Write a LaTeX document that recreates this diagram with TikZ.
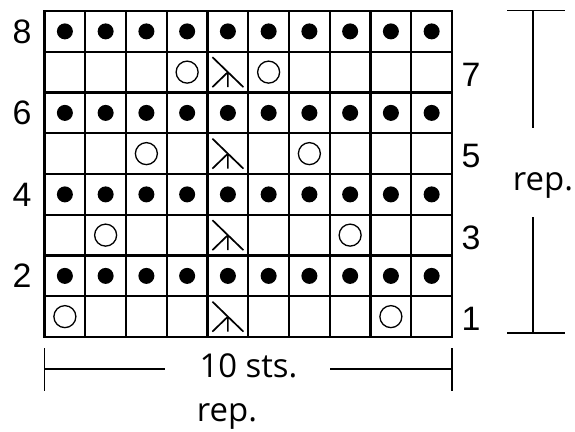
\documentclass[tikz,border=0pt]{standalone}
\usepackage{fontspec}
\setmainfont{Liberation Sans}
\newfontfamily\chartfont{Open Sans}
\usetikzlibrary{positioning}

\begin{document}
\begin{tikzpicture}[x=1bp,y=-1bp,
    gridline/.style={line width=2.4bp, line cap=rect},
    yarnover/.style={line width=1.3bp},
    decline/.style={line width=1.7bp},
    bracket/.style={line width=1.3bp},
    rownum/.style={font=\fontsize{34}{38}\selectfont},
    replabel/.style={font=\chartfont\fontsize{33}{38}\selectfont, anchor=base}]
    \useasboundingbox (0,0) rectangle (575,431);

    \begin{scope}[shift={(44.5,337)}, x=40.75bp, y=40.75bp]
        % Grid
        \draw[gridline, step=40.75bp] (0,0) grid (10,8);

        % Purl rows
        \foreach \r in {2,4,6,8} {
            \foreach \c in {1,...,10} {
                \fill (\c-0.5,\r-0.5) circle (8bp);
            }
        }

        % Yarn overs
        \foreach \c/\r in {1/1,9/1,2/3,8/3,3/5,7/5,4/7,6/7} {
            \draw[yarnover] (\c-0.5,\r-0.5) circle (11bp);
        }

        % Decreases
        \foreach \r in {1,3,5,7} {
            \draw[decline] (4.5,\r-0.5) ++(-15.5bp,15bp) -- ++(31bp,-30bp)
                (4.5,\r-0.5) -- ++(-15.5bp,-15bp)
                (4.5,\r-0.5) -- ++(0,-15bp);
        }

        % Row numbers
        \foreach \r in {2,4,6,8} {
            \node[rownum] (row\r) at (-0.55,\r-0.5) {\r};
        }
        \foreach \r in {1,3,5,7} {
            \node[rownum] (row\r) at (10.47,\r-0.56) {\r};
        }
    \end{scope}

    % Row repeat
    \draw[bracket] (507,10.7) -- (565,10.7);
    \draw[bracket] (533,10.7) -- (533,128);
    \node[replabel] (reprows) at (543,190) {rep.};
    \draw[bracket] (533,217) -- (533,333);
    \draw[bracket] (507,333) -- (565,333);

    % Stitch repeat
    \draw[bracket] (44.5,348) -- (44.5,391);
    \draw[bracket] (452,348) -- (452,391);
    \node[replabel] (sts) at (248.5,377) {10 sts.};
    \draw[bracket] (44.5,369) -- (165,369);
    \draw[bracket] (330,369) -- (452,369);
    \node[replabel] (repsts) at (227,421) {rep.};
\end{tikzpicture}
\end{document}
